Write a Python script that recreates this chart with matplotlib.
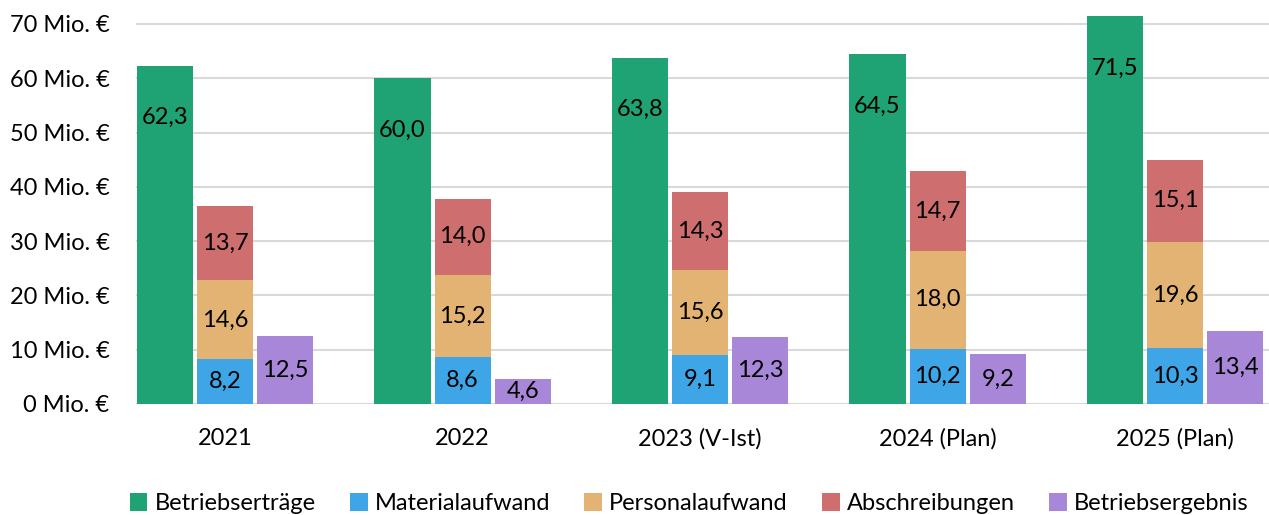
import matplotlib.pyplot as plt
import numpy as np

plt.rcParams['font.family'] = ['Lato', 'DejaVu Sans']

jahre = ["2021", "2022", "2023 (V-Ist)", "2024 (Plan)", "2025 (Plan)"]
ertraege = [62.3, 60.0, 63.8, 64.5, 71.5]
material = [8.2, 8.6, 9.1, 10.2, 10.3]
personal = [14.6, 15.2, 15.6, 18.0, 19.6]
abschreibungen = [13.7, 14.0, 14.3, 14.7, 15.1]
ergebnis = [12.5, 4.6, 12.3, 9.2, 13.4]

c_ertr = "#1fa374"
c_mat = "#3ea6e6"
c_pers = "#e3b373"
c_abs = "#cf6e6e"
c_erg = "#a887d8"

FS = 17

W, H = 1269, 515
fig = plt.figure(figsize=(W / 100, H / 100), dpi=100)
ax = fig.add_axes([136 / W, (H - 404) / H, (W - 136) / W, 394 / H])

x = np.arange(len(jahre))
bw = 0.236
off = 0.253

mat = np.array(material)
pers = np.array(personal)

b1 = ax.bar(x - off, ertraege, bw, color=c_ertr, label="Betriebserträge", zorder=3)
b2 = ax.bar(x, material, bw, color=c_mat, label="Materialaufwand", zorder=3)
b3 = ax.bar(x, personal, bw, bottom=mat, color=c_pers, label="Personalaufwand", zorder=3)
b4 = ax.bar(x, abschreibungen, bw, bottom=mat + pers, color=c_abs, label="Abschreibungen", zorder=3)
b5 = ax.bar(x + off, ergebnis, bw, color=c_erg, label="Betriebsergebnis", zorder=3)

def fmt(v):
    return f"{v:.1f}".replace(".", ",")

for rect, v in zip(b1, ertraege):
    ax.annotate(fmt(v), (rect.get_x() + rect.get_width() / 2, rect.get_height()),
                xytext=(0, -52), textcoords="offset pixels",
                ha="center", va="center", fontsize=FS, zorder=4)

for bars, vals in [(b2, material), (b3, personal), (b4, abschreibungen), (b5, ergebnis)]:
    for rect, v in zip(bars, vals):
        ax.text(rect.get_x() + rect.get_width() / 2, rect.get_y() + rect.get_height() / 2,
                fmt(v), ha="center", va="center", fontsize=FS, zorder=4)

ax.set_xlim(-0.375, -0.375 + (W - 136) / 237.5)
ax.set_ylim(0, 394 / 5.4286)
ax.set_yticks(range(0, 80, 10))
ax.set_yticklabels([f"{t} Mio. €" for t in range(0, 80, 10)], fontsize=FS)
ax.set_xticks(x)
ax.set_xticklabels(jahre, fontsize=FS)
ax.tick_params(axis="both", length=0)
ax.tick_params(axis="x", pad=17)
ax.tick_params(axis="y", pad=19)
ax.grid(axis="y", color="#d9d9d9", linewidth=1.5, zorder=0)
for s in ax.spines.values():
    s.set_visible(False)

fig.legend(handles=[b1, b2, b3, b4, b5], loc="center", bbox_to_anchor=(0.543, 0.022),
           ncol=5, frameon=False, fontsize=FS, handlelength=0.75, handleheight=0.75,
           handletextpad=0.3, columnspacing=1.45)

fig.savefig("out.png", dpi=100)
